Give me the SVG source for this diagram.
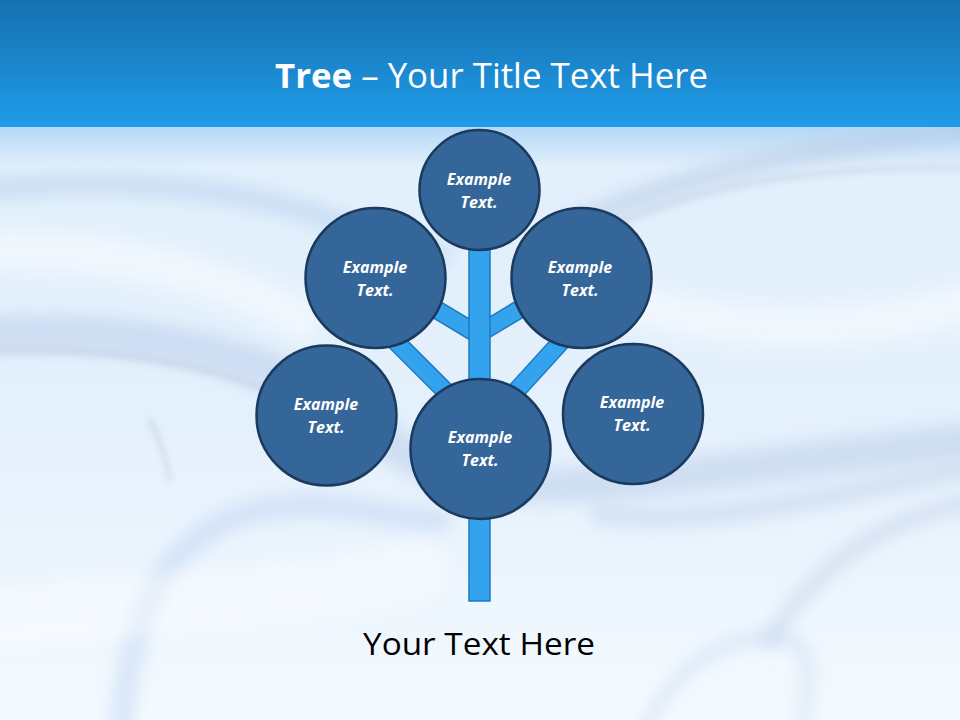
<svg xmlns="http://www.w3.org/2000/svg" width="960" height="720" viewBox="0 0 960 720">
<defs>
<linearGradient id="hdr" x1="0" y1="0" x2="0" y2="1">
<stop offset="0" stop-color="#1670AF"/>
<stop offset="1" stop-color="#1F9CEA"/>
</linearGradient>
<linearGradient id="bg" x1="0" y1="0" x2="0" y2="1">
<stop offset="0" stop-color="#B3D8F6"/>
<stop offset="0.07" stop-color="#E2F0FC"/>
<stop offset="0.5" stop-color="#E4F0FC"/>
<stop offset="1" stop-color="#F4FAFF"/>
</linearGradient>
<filter id="blur" filterUnits="userSpaceOnUse" x="0" y="0" width="960" height="720"><feGaussianBlur stdDeviation="8"/></filter>
<filter id="blur2" filterUnits="userSpaceOnUse" x="0" y="0" width="960" height="720"><feGaussianBlur stdDeviation="3"/></filter>
<style>
.node circle{fill:#35669A;stroke:#1B3A5E;stroke-width:2.5}
.node text{font-family:"Open Sans","Liberation Sans",sans-serif;font-weight:bold;font-style:italic;font-size:16px;fill:#FFFFFF;text-anchor:middle}
.br-o{stroke:#1F7AC0;stroke-width:19;fill:none}
.br-i{stroke:#33A3EE;stroke-width:16;fill:none}
</style>
</defs>
<!-- background -->
<rect x="0" y="126" width="960" height="594" fill="url(#bg)"/>
<g id="background-swirls" fill="none" stroke-linecap="round">
<path d="M-20,190 C120,175 250,190 330,220 C380,240 420,250 440,255" stroke="#B4CDEC" stroke-width="22" opacity="0.5" filter="url(#blur)"/>
<path d="M-20,335 C120,325 250,350 330,400 C380,435 410,465 470,480 C560,500 700,470 980,440" stroke="#B2C6E6" stroke-width="36" opacity="0.45" filter="url(#blur)"/>
<path d="M-20,350 C150,345 260,375 330,425" stroke="#C4CDE3" stroke-width="8" opacity="0.55" filter="url(#blur2)"/>
<path d="M560,230 C650,190 760,150 980,130" stroke="#B5C7E4" stroke-width="22" opacity="0.5" filter="url(#blur)"/>
<path d="M600,232 C700,182 820,165 980,168" stroke="#C2CCE2" stroke-width="6" opacity="0.5" filter="url(#blur2)"/>
<path d="M150,420 C160,440 166,460 170,480" stroke="#A8B3CF" stroke-width="3" opacity="0.5" filter="url(#blur2)"/>
<path d="M120,740 C130,600 170,530 260,510 C340,495 380,520 440,520" stroke="#B3CCEE" stroke-width="24" opacity="0.4" filter="url(#blur)"/>
<path d="M600,515 C700,525 800,505 980,465" stroke="#BFD0EA" stroke-width="20" opacity="0.5" filter="url(#blur)"/>
<path d="M640,740 C680,650 740,630 790,640 C815,650 810,690 800,740" stroke="#B8CCEA" stroke-width="12" opacity="0.4" filter="url(#blur)"/>
<path d="M770,640 C820,560 880,520 980,500" stroke="#C3D2EA" stroke-width="18" opacity="0.5" filter="url(#blur)"/>
<path d="M620,300 C750,340 880,330 980,300" stroke="#FFFFFF" stroke-width="40" opacity="0.45" filter="url(#blur)"/>
<path d="M0,250 C150,250 250,290 300,320" stroke="#FFFFFF" stroke-width="40" opacity="0.45" filter="url(#blur)"/>
<path d="M0,620 C150,600 300,600 420,570" stroke="#FFFFFF" stroke-width="60" opacity="0.4" filter="url(#blur)"/>
</g>
<!-- header -->
<rect x="0" y="0" width="960" height="127" fill="url(#hdr)"/>
<text id="title" x="491.5" y="88" text-anchor="middle" font-family="Open Sans,Liberation Sans,sans-serif" font-size="34" fill="#FFFFFF" textLength="433" lengthAdjust="spacingAndGlyphs"><tspan font-weight="bold">Tree</tspan> – Your Title Text Here</text>
<!-- connectors -->
<g id="connectors">
<line class="br-o" x1="478" y1="334.5" x2="420" y2="299.7"/>
<line class="br-i" x1="478" y1="334.5" x2="420" y2="299.7"/>
<line class="br-o" x1="481" y1="332.4" x2="540" y2="297"/>
<line class="br-i" x1="481" y1="332.4" x2="540" y2="297"/>
<line class="br-o" x1="380" y1="325.8" x2="475" y2="420.8"/>
<line class="br-i" x1="380" y1="325.8" x2="475" y2="420.8"/>
<line class="br-o" x1="484" y1="426.4" x2="580" y2="320.8"/>
<line class="br-i" x1="484" y1="426.4" x2="580" y2="320.8"/>
<rect x="469" y="240" width="21" height="361" fill="#33A3EE" stroke="#1F7AC0" stroke-width="1.5"/>
</g>
<!-- nodes -->
<g id="node-top" class="node"><circle cx="479.5" cy="190" r="60"/><text x="479" y="185">Example</text><text x="479" y="208">Text.</text></g>
<g id="node-upper-left" class="node"><circle cx="375.5" cy="278" r="70"/><text x="375" y="273">Example</text><text x="375" y="296">Text.</text></g>
<g id="node-upper-right" class="node"><circle cx="581.5" cy="278" r="70"/><text x="580" y="273">Example</text><text x="580" y="296">Text.</text></g>
<g id="node-left" class="node"><circle cx="326.5" cy="415.5" r="70"/><text x="326" y="410">Example</text><text x="326" y="433">Text.</text></g>
<g id="node-right" class="node"><circle cx="633" cy="414" r="70"/><text x="632" y="408">Example</text><text x="632" y="431">Text.</text></g>
<g id="node-bottom" class="node"><circle cx="480.5" cy="449" r="70"/><text x="480" y="443">Example</text><text x="480" y="466">Text.</text></g>
<text id="caption" x="479" y="655" text-anchor="middle" font-family="Open Sans,Liberation Sans,sans-serif" font-size="31" fill="#000000" textLength="232" lengthAdjust="spacingAndGlyphs">Your Text Here</text>
</svg>
